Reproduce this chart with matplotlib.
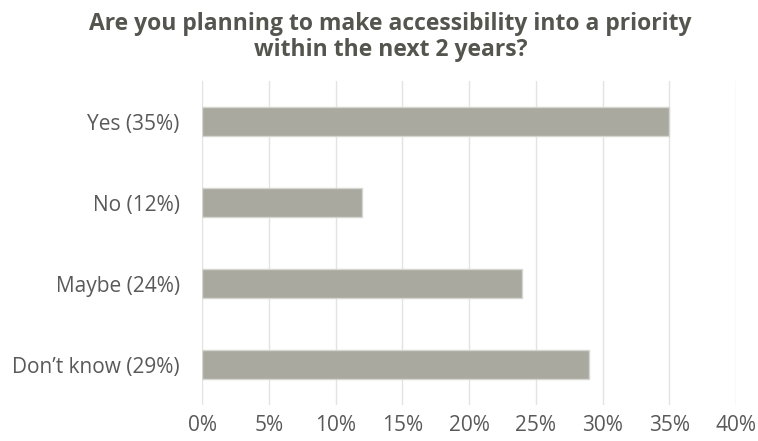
import matplotlib
matplotlib.use("Agg")
import matplotlib.pyplot as plt
from matplotlib.ticker import PercentFormatter

categories = ["Yes (35%)", "No (12%)", "Maybe (24%)", "Don\u2019t know (29%)"]
values = [35, 12, 24, 29]
ticks = [0, 5, 10, 15, 20, 25, 30, 35, 40]

title = "Are you planning to make accessibility into a priority\nwithin the next 2 years?"

plt.rcParams["font.family"] = ["Open Sans", "DejaVu Sans"]

fig = plt.figure(figsize=(7.58, 4.41), dpi=100)
ax = fig.add_axes([0.2665, 0.0816, 0.7045, 0.7347])

pos = list(range(len(categories)))
ax.barh(pos, values, height=0.36, color="#a9a9a0", edgecolor="#d6d6d0", linewidth=1, zorder=3)

ax.set_ylim(len(categories) - 0.5, -0.5)
ax.set_yticks(pos)
ax.set_yticklabels(categories)
ax.set_xlim(0, 40)
ax.set_xticks(ticks)
ax.xaxis.set_major_formatter(PercentFormatter(decimals=0))

ax.grid(axis="x", color="#e3e3e3", linewidth=1, zorder=0)
for s in ax.spines.values():
    s.set_visible(False)
ax.tick_params(axis="both", length=0, labelsize=15, labelcolor="#595959")
ax.tick_params(axis="y", pad=16)
ax.tick_params(axis="x", pad=7)

fig.text(0.515, 0.972, title, ha="center", va="top", fontsize=16.5,
         fontweight="bold", color="#55554f", linespacing=1.1)

fig.savefig("out.png", dpi=100)
